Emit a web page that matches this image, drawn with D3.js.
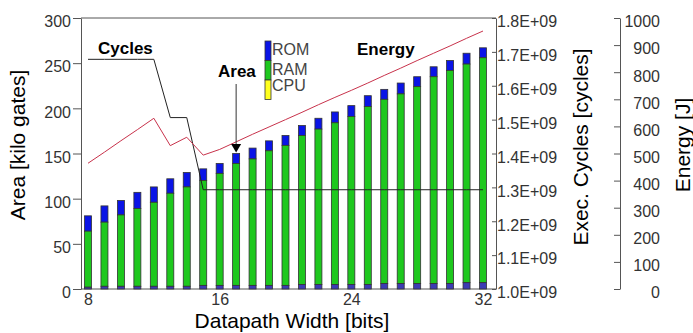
<!DOCTYPE html>
<html>
<head>
<meta charset="utf-8">
<script src="https://cdn.jsdelivr.net/npm/d3@7"></script>
<style>
  body { margin: 0; background: #fff; }
  text { font-family: "Liberation Sans", Arial, sans-serif; }
</style>
</head>
<body>
<div id="chart"></div>
<script>
// Datapath widths (bits)
var widths = [8, 9, 10, 11, 12, 13, 14, 15, 16, 17, 18, 19, 20, 21, 22, 23, 24, 25, 26, 27, 28, 29, 30, 31, 32];
// Area components [kilo gates]
var cpuArea = [2, 3, 3, 3, 3, 3, 3, 4, 4, 4, 4, 4, 4, 5, 5, 5, 5, 5, 6, 6, 6, 6, 6, 7, 7];
var ramTop  = [64, 74, 82, 89, 96, 106, 113, 120, 128, 139, 144, 153, 159, 170, 177, 184, 191, 202, 210, 216, 224, 235, 242, 249, 256];
var total   = [81, 92, 98, 107, 113, 122, 129, 133, 139, 150, 156, 164, 170, 181, 189, 196, 203, 214, 221, 228, 235, 246, 253, 261, 267];
// Execution cycles
var cycles  = [1.678e9, 1.678e9, 1.678e9, 1.678e9, 1.678e9, 1.506e9, 1.506e9, 1.293e9, 1.293e9, 1.293e9, 1.293e9, 1.293e9, 1.293e9,
               1.293e9, 1.293e9, 1.293e9, 1.293e9, 1.293e9, 1.293e9, 1.293e9, 1.293e9, 1.293e9, 1.293e9, 1.293e9, 1.293e9];
// Energy [J]
var energy  = [464, 505, 547, 588, 630, 529, 560, 494, 515, 543, 571, 598, 625, 652, 680, 707, 733, 760, 788, 815, 843, 870, 897, 925, 952];

var legendKeys = ["ROM", "RAM", "CPU"];
var colors = {ROM: "#0a14e6", RAM: "#1ec81e", CPU: "#ffff1e", base: "#3c3cb4"};

var width = 693, height = 333;
var svg = d3.select("#chart").append("svg")
  .attr("width", width).attr("height", height);

// Scales
var x = d3.scaleLinear().domain([8, 32]).range([88, 483]);
var yArea = d3.scaleLinear().domain([0, 300]).range([289, 18]);
var yCyc = d3.scaleLinear().domain([1.0e9, 1.8e9]).range([289, 18]);
var yEn = d3.scaleLinear().domain([0, 1000]).range([289, 18]);
var barW = 7;

// Plot frame
svg.append("line").attr("x1", 81).attr("x2", 496).attr("y1", 18).attr("y2", 18)
  .attr("stroke", "#555");

// Left axis
var gL = svg.append("g").attr("transform", "translate(81,0)")
  .call(d3.axisLeft(yArea).tickValues(d3.range(0, 301, 50)).tickSize(8).tickPadding(2).tickSizeOuter(0));
// Right cycles axis
var gR = svg.append("g").attr("transform", "translate(496,0)")
  .call(d3.axisRight(yCyc).tickValues(d3.range(1.0e9, 1.81e9, 1e8)).tickSize(-4).tickPadding(1).tickSizeOuter(0)
    .tickFormat(function (d) { return (d / 1e9).toFixed(1) + "E+09"; }));
// Energy axis
var gE = svg.append("g").attr("transform", "translate(620,0)")
  .call(d3.axisRight(yEn).tickValues(d3.range(0, 1001, 100)).tickSize(-6).tickSizeOuter(0)
    .tickFormat(d3.format("d")));
gE.selectAll(".tick text").attr("x", 40).attr("text-anchor", "end");
// Bottom axis
var gB = svg.append("g").attr("transform", "translate(0,289)")
  .call(d3.axisBottom(x).tickValues([8, 16, 24, 32]).tickSize(0).tickPadding(5).tickSizeOuter(0));
gB.select(".domain").attr("d", "M81,0H496");

[gL, gR, gE, gB].forEach(function (g) {
  g.selectAll(".domain, .tick line").attr("stroke", "#555");
  g.selectAll(".tick text").attr("font-size", 16).attr("fill", "#333")
    .attr("font-family", "'Liberation Sans', Arial, sans-serif");
});
gL.selectAll(".tick text").attr("dy", "0.55em");
gR.selectAll(".tick text").attr("dy", "0.55em");
gE.selectAll(".tick text").attr("dy", "0.55em");

// Stacked bars
var bars = svg.append("g").selectAll("g").data(widths).enter().append("g");
bars.append("rect")
  .attr("x", function (d) { return x(d) - barW / 2; })
  .attr("y", function (d, i) { return yArea(total[i]); })
  .attr("width", barW)
  .attr("height", function (d, i) { return yArea(ramTop[i]) - yArea(total[i]); })
  .attr("fill", colors.ROM).attr("stroke", "#333").attr("stroke-width", 0.8);
bars.append("rect")
  .attr("x", function (d) { return x(d) - barW / 2; })
  .attr("y", function (d, i) { return yArea(ramTop[i]); })
  .attr("width", barW)
  .attr("height", function (d, i) { return yArea(cpuArea[i]) - yArea(ramTop[i]); })
  .attr("fill", colors.RAM).attr("stroke", "#333").attr("stroke-width", 0.8);
bars.append("rect")
  .attr("x", function (d) { return x(d) - barW / 2; })
  .attr("y", function (d, i) { return yArea(cpuArea[i]); })
  .attr("width", barW)
  .attr("height", function (d, i) { return yArea(0) - yArea(cpuArea[i]); })
  .attr("fill", colors.base).attr("stroke", "#333").attr("stroke-width", 0.8);

// Cycles line
svg.append("path")
  .datum(widths)
  .attr("d", d3.line()
    .x(function (d) { return x(d); })
    .y(function (d, i) { return yCyc(cycles[i]); }))
  .attr("fill", "none").attr("stroke", "#222").attr("stroke-width", 1);

// Energy line
svg.append("path")
  .datum(widths)
  .attr("d", d3.line()
    .x(function (d) { return x(d); })
    .y(function (d, i) { return yEn(energy[i]); }))
  .attr("fill", "none").attr("stroke", "#c8324b").attr("stroke-width", 1);

// Legend
var lg = svg.append("g").attr("transform", "translate(265,41)");
var legendY = [14, 34, 50];
legendKeys.forEach(function (k, i) {
  lg.append("rect").attr("x", 0).attr("y", i * 19.5).attr("width", 6).attr("height", 19.5)
    .attr("fill", colors[k]).attr("stroke", "#333").attr("stroke-width", 0.8);
  lg.append("text").attr("x", 7).attr("y", legendY[i]).text(k)
    .attr("font-size", 16).attr("fill", "#444");
});

// Annotations
function label(t, xx, yy) {
  svg.append("text").attr("x", xx).attr("y", yy).text(t)
    .attr("font-size", 17).attr("font-weight", "bold").attr("fill", "#000");
}
label("Cycles", 98, 54);
label("Energy", 357, 55);
label("Area", 218, 77);
svg.append("line").attr("x1", x(17)).attr("x2", x(17)).attr("y1", 84).attr("y2", 146)
  .attr("stroke", "#333");
svg.append("path")
  .attr("d", "M" + (x(17) - 5) + ",144L" + (x(17) + 5) + ",144L" + x(17) + "," + (yArea(total[9]) - 1) + "Z")
  .attr("fill", "#000");

// Axis titles
svg.append("text").attr("transform", "translate(25,145) rotate(-90)")
  .attr("text-anchor", "middle").attr("font-size", 21).attr("fill", "#000").text("Area [kilo gates]");
svg.append("text").attr("transform", "translate(588,147) rotate(-90)")
  .attr("text-anchor", "middle").attr("font-size", 21).attr("fill", "#000").text("Exec. Cycles [cycles]");
svg.append("text").attr("transform", "translate(690,145) rotate(-90)")
  .attr("text-anchor", "middle").attr("font-size", 21).attr("fill", "#000").text("Energy [J]");
svg.append("text").attr("x", 292).attr("y", 328)
  .attr("text-anchor", "middle").attr("font-size", 21).attr("fill", "#000").text("Datapath Width [bits]");
</script>
</body>
</html>
